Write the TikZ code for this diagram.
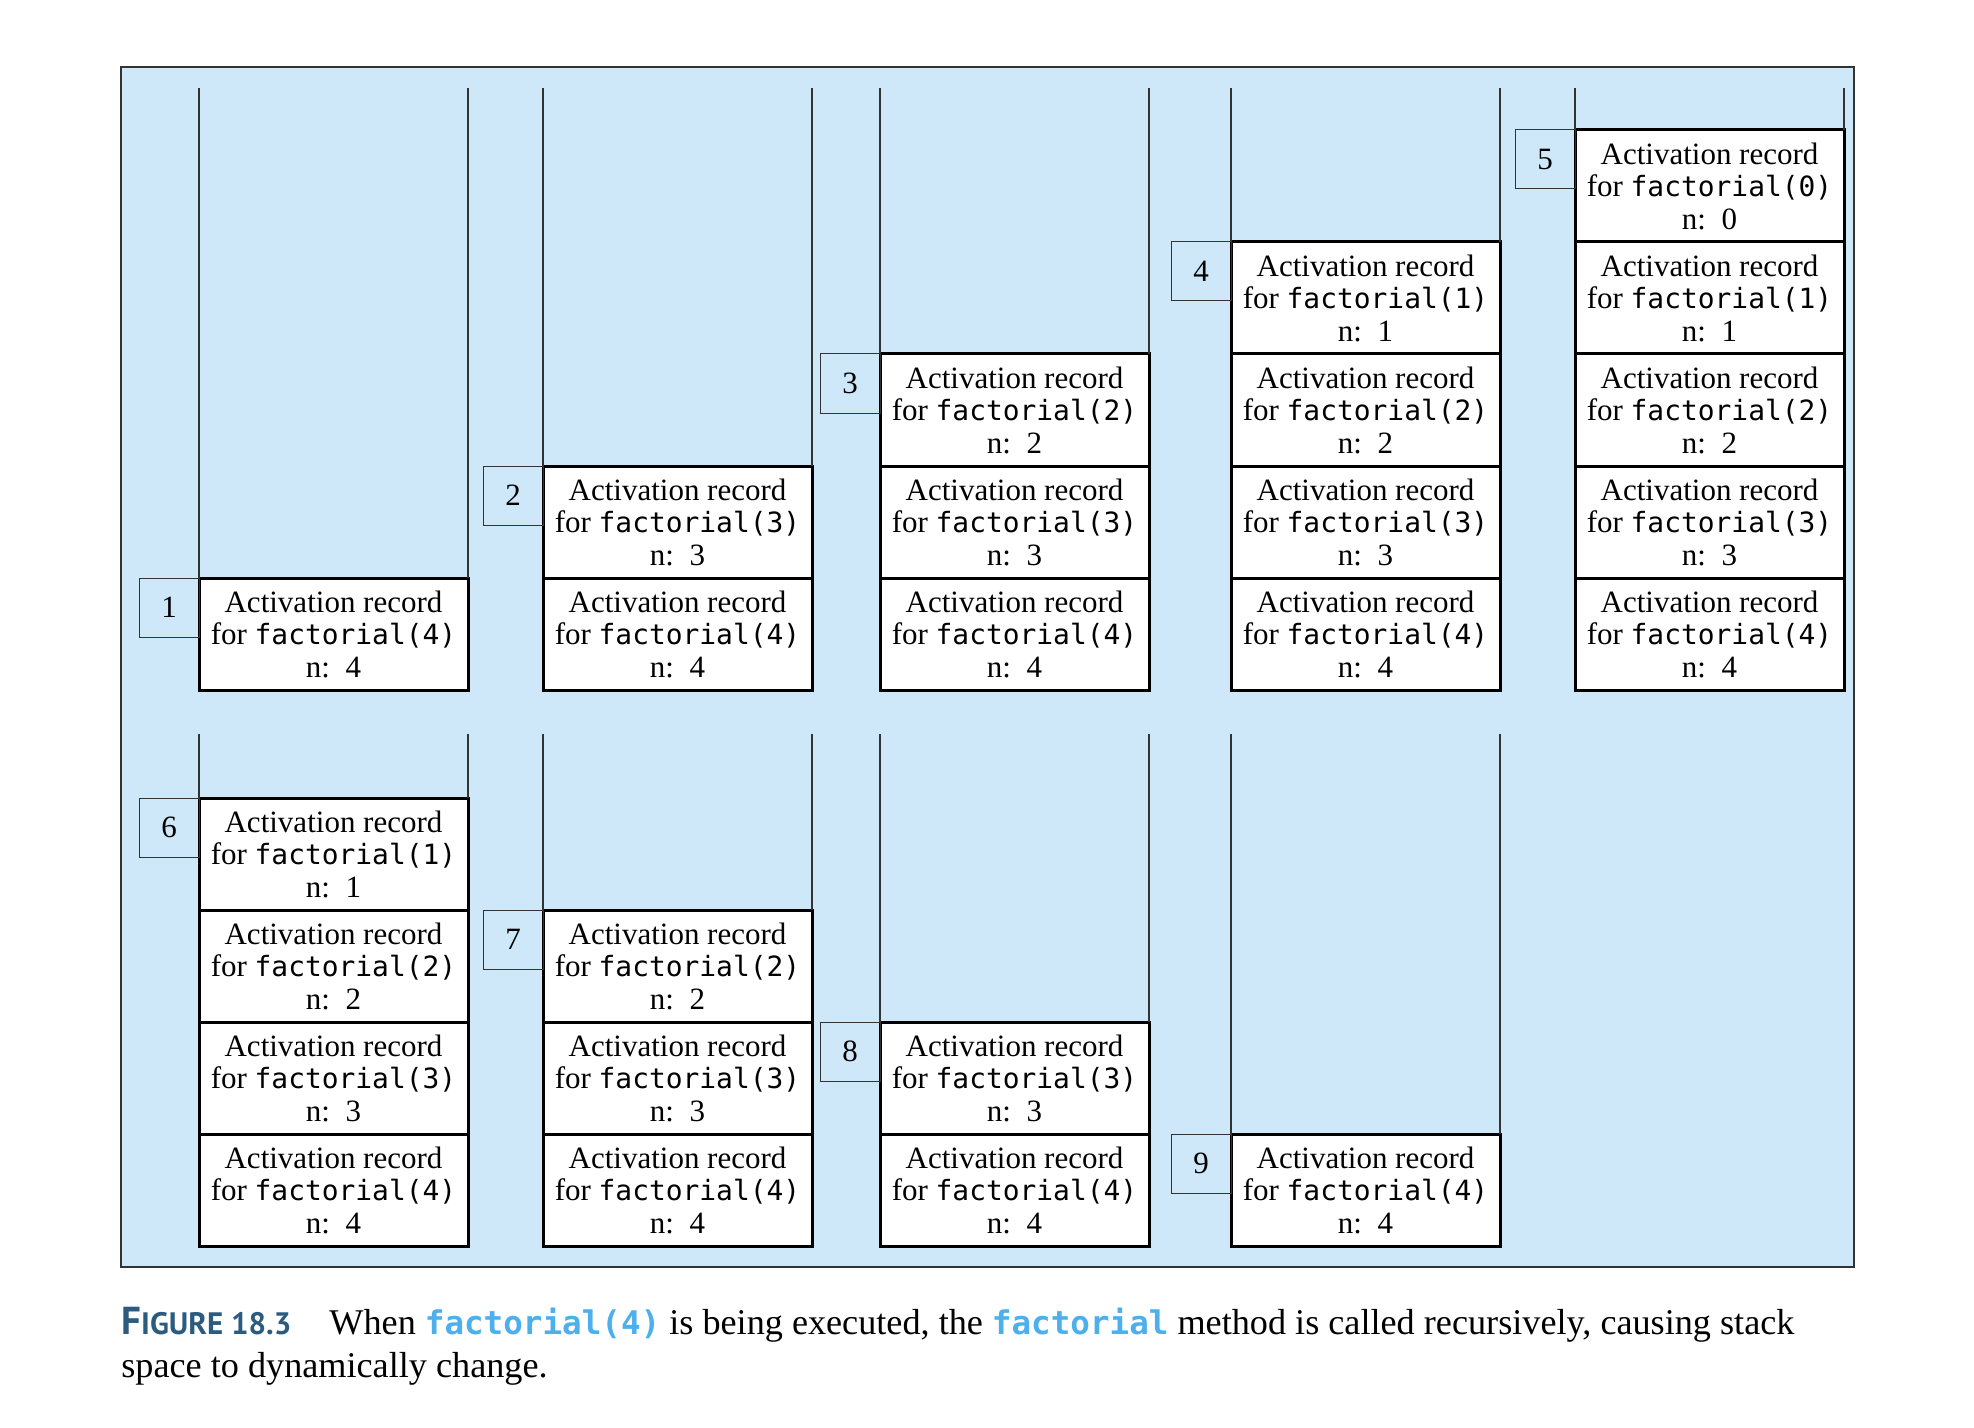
\documentclass[tikz,border=0pt]{standalone}
\usepackage{fontspec}
\setmainfont{Liberation Serif}
\setmonofont[Scale=0.9]{DejaVu Sans Mono}
\newfontfamily\figfont{PT Sans}
\usepackage{tikz}
\usetikzlibrary{positioning}
\definecolor{panelblue}{RGB}{207,232,249}
\definecolor{figblue}{RGB}{43,92,128}
\definecolor{codeblue}{RGB}{77,176,236}
\newcommand{\actrec}[1]{Activation record\\for \texttt{factorial(#1)}\\n:\ \ #1}
\tikzset{
    %Define style for activation records
    record/.style={
           rectangle,
           draw=black, line width=1.5pt,
           fill=white,
           outer sep=0pt, inner sep=0pt,
           minimum width=134.5pt,
           minimum height=56pt,
           align=center,
           font=\fontsize{15.5}{16.25}\selectfont},
    %Define style for step numbers
    stepnum/.style={
           rectangle,
           draw=black!80, line width=0.5pt,
           outer sep=0pt, inner sep=0pt,
           minimum width=30pt,
           minimum height=29.5pt,
           anchor=north east,
           font=\fontsize{15.5}{16.25}\selectfont},
    % Define line styles
    stackline/.style={
           draw=black!80,
           line width=0.75pt},
    panel/.style={
           fill=panelblue,
           draw=black!80,
           line width=0.8pt}
}
\begin{document}
\begin{tikzpicture}[x=0.5pt,y=-0.5pt]
\useasboundingbox (0,0) rectangle (1974,1428);
\fill[white] (0,0) rectangle (1974,1428);
\draw[panel] (121,67) rectangle (1854,1267);
\coordinate (top1) at (0,88);
\coordinate (top2) at (0,734);
% step 1
\node[record, anchor=south west] (s1a) at (199,690) {\actrec{4}};
\node[stepnum] (n1) at (s1a.north west) {1};
% step 2
\node[record, anchor=south west] (s2a) at (543,690) {\actrec{4}};
\node[record, above=0pt of s2a] (s2b) {\actrec{3}};
\node[stepnum] (n2) at (s2b.north west) {2};
% step 3
\node[record, anchor=south west] (s3a) at (880,690) {\actrec{4}};
\node[record, above=0pt of s3a] (s3b) {\actrec{3}};
\node[record, above=0pt of s3b] (s3c) {\actrec{2}};
\node[stepnum] (n3) at (s3c.north west) {3};
% step 4
\node[record, anchor=south west] (s4a) at (1231,690) {\actrec{4}};
\node[record, above=0pt of s4a] (s4b) {\actrec{3}};
\node[record, above=0pt of s4b] (s4c) {\actrec{2}};
\node[record, above=0pt of s4c] (s4d) {\actrec{1}};
\node[stepnum] (n4) at (s4d.north west) {4};
% step 5
\node[record, anchor=south west] (s5a) at (1575,690) {\actrec{4}};
\node[record, above=0pt of s5a] (s5b) {\actrec{3}};
\node[record, above=0pt of s5b] (s5c) {\actrec{2}};
\node[record, above=0pt of s5c] (s5d) {\actrec{1}};
\node[record, above=0pt of s5d] (s5e) {\actrec{0}};
\node[stepnum] (n5) at (s5e.north west) {5};
% step 6
\node[record, anchor=south west] (s6a) at (199,1246) {\actrec{4}};
\node[record, above=0pt of s6a] (s6b) {\actrec{3}};
\node[record, above=0pt of s6b] (s6c) {\actrec{2}};
\node[record, above=0pt of s6c] (s6d) {\actrec{1}};
\node[stepnum] (n6) at (s6d.north west) {6};
% step 7
\node[record, anchor=south west] (s7a) at (543,1246) {\actrec{4}};
\node[record, above=0pt of s7a] (s7b) {\actrec{3}};
\node[record, above=0pt of s7b] (s7c) {\actrec{2}};
\node[stepnum] (n7) at (s7c.north west) {7};
% step 8
\node[record, anchor=south west] (s8a) at (880,1246) {\actrec{4}};
\node[record, above=0pt of s8a] (s8b) {\actrec{3}};
\node[stepnum] (n8) at (s8b.north west) {8};
% step 9
\node[record, anchor=south west] (s9a) at (1231,1246) {\actrec{4}};
\node[stepnum] (n9) at (s9a.north west) {9};
% stack walls
\draw[stackline] (s1a.north west) -- (s1a.north west |- top1) (s1a.north east) -- (s1a.north east |- top1);
\draw[stackline] (s2b.north west) -- (s2b.north west |- top1) (s2b.north east) -- (s2b.north east |- top1);
\draw[stackline] (s3c.north west) -- (s3c.north west |- top1) (s3c.north east) -- (s3c.north east |- top1);
\draw[stackline] (s4d.north west) -- (s4d.north west |- top1) (s4d.north east) -- (s4d.north east |- top1);
\draw[stackline] (s5e.north west) -- (s5e.north west |- top1) (s5e.north east) -- (s5e.north east |- top1);
\draw[stackline] (s6d.north west) -- (s6d.north west |- top2) (s6d.north east) -- (s6d.north east |- top2);
\draw[stackline] (s7c.north west) -- (s7c.north west |- top2) (s7c.north east) -- (s7c.north east |- top2);
\draw[stackline] (s8b.north west) -- (s8b.north west |- top2) (s8b.north east) -- (s8b.north east |- top2);
\draw[stackline] (s9a.north west) -- (s9a.north west |- top2) (s9a.north east) -- (s9a.north east |- top2);
% caption
\node[anchor=base west, align=left, inner sep=0pt, font=\fontsize{18.1}{21.5}\selectfont] (caption) at (121,1377)
  {{\figfont\bfseries\color{figblue}{\fontsize{19.5}{21.5}\selectfont F}{\fontsize{15.5}{16}\selectfont IGURE 18.3}}\hspace{19pt}When
   \textcolor{codeblue}{\ttfamily\bfseries factorial(4)} is being executed, the
   \textcolor{codeblue}{\ttfamily\bfseries factorial} method is called recursively, causing stack\\
   space to dynamically change.};
\end{tikzpicture}
\end{document}
